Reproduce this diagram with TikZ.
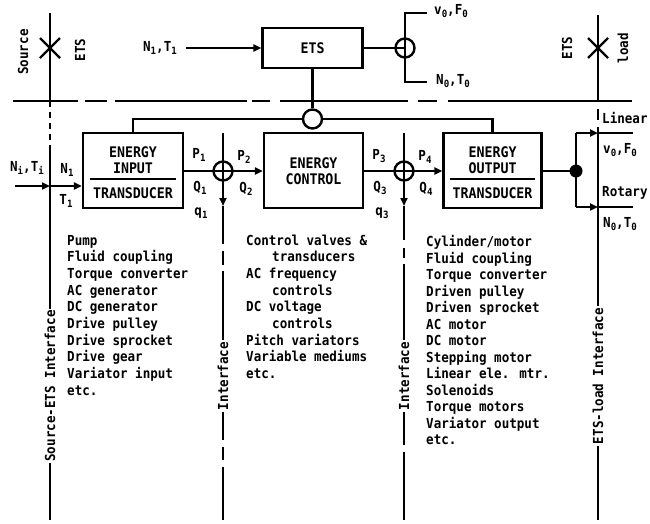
\documentclass[tikz,border=0pt]{standalone}
\usepackage{fontspec}
\setmainfont{DejaVu Sans Mono}[BoldFont={DejaVu Sans Mono Bold},FakeStretch=0.91]
\usetikzlibrary{arrows.meta}
\newcommand\sbx[1]{\raisebox{-0.45ex}{\fontsize{10}{10}\selectfont #1}}
\begin{document}
\begin{tikzpicture}[x=1pt,y=-1pt,
  every node/.style={font=\bfseries\fontsize{13.8}{16.7}\selectfont, inner sep=1pt},
  bxt/.style={font=\bfseries\fontsize{14.6}{16}\selectfont},
  ln/.style={line width=2.2pt},
  arr/.style={line width=2.2pt,-{Triangle[length=8pt,width=7pt]}},
  blk/.style={draw,line width=2.2pt,inner sep=0pt},
  jn/.style={circle,draw,line width=2.4pt,minimum size=19pt,inner sep=0pt},
  vlab/.style={rotate=90,fill=white,inner sep=1.5pt}]
\useasboundingbox[fill=white] (0,0) rectangle (650,523);

% --- top dashed separator
\foreach \a/\b in {13/78,85/107,115/247,252/270,280/408,418/437,448/632}
  \draw[ln] (\a,101) -- (\b,101);

% --- interface boundary lines
\draw[ln] (50,13) -- (50,101);
\draw[ln,dash pattern=on 6pt off 5pt] (50,101) -- (50,147);
\draw[ln] (50,147) -- (50,520);
\draw[ln] (598,15) -- (598,101);
\draw[ln] (598,109) -- (598,120);
\draw[ln] (598,127) -- (598,520);
\foreach \a/\b in {206/244,251/265,271/440,447/460,467/520}
  \draw[ln] (223,\a) -- (223,\b);
\foreach \a/\b in {206/240,248/258,264/445,452/520}
  \draw[ln] (404,\a) -- (404,\b);

% --- crosses
\draw[ln] (40,38) -- (60,58); \draw[ln] (40,58) -- (60,38);
\draw[ln] (588,38) -- (608,58); \draw[ln] (588,58) -- (608,38);

% --- boxes
\node[blk,bxt,minimum width=100pt,minimum height=40pt] (ets) at (312.5,48) {ETS};
\node[blk,minimum width=100pt,minimum height=75pt] (inb) at (133,170.5) {};
\node[blk,minimum width=99pt,minimum height=75pt] (ctl) at (313.5,170.5) {};
\node[blk,minimum width=98pt,minimum height=75pt] (oub) at (492.5,170.5) {};

\node[bxt] (inb1) at (133,152) {ENERGY};
\node[bxt] (inb2) at (133,168) {INPUT};
\draw[ln] (90,179) -- (176,179);
\node[bxt] (inb3) at (133,193) {TRANSDUCER};
\node[bxt,align=center] (ctlt) at (313.5,171) {ENERGY\\CONTROL};
\node[bxt] (oub1) at (492.5,152) {ENERGY};
\node[bxt] (oub2) at (492.5,168) {OUTPUT};
\draw[ln] (450,179) -- (535,179);
\node[bxt] (oub3) at (492.5,193) {TRANSDUCER};

% --- junctions
\node[jn] (j0) at (405,48) {};
\node[jn] (jt) at (312.5,119) {};
\node[jn] (j1) at (223,171) {};
\node[jn] (j2) at (404,171) {};
\node[circle,fill,minimum size=13pt,inner sep=0pt] (dot) at (576,171) {};

% --- top ETS block connections
\node (n1t1) at (160,48) {N\sbx{1},T\sbx{1}};
\draw[arr,shorten <=8pt] (n1t1.east) -- (ets.west);
\draw[ln] (ets.east) -- (j0.center);
\coordinate (vt) at (405,13); \coordinate (vte) at (427,13);
\coordinate (vb) at (405,82); \coordinate (vbe) at (427,82);
\draw[ln] (vte) -- (vt) -- (vb) -- (vbe);
\node[anchor=base west] (vf) at (433,14) {v\sbx{0},F\sbx{0}};
\node[anchor=base west] (nt) at (435,84) {N\sbx{0},T\sbx{0}};

\draw[ln] (ets.south) -- (jt.north);
\draw[ln] (jt.west) -| (inb.north);
\draw[ln] (jt.east) -| (oub.north);

% --- main flow
\coordinate (in0) at (15,186);
\coordinate (in1) at (50,186);
\draw[arr] (in0) -- (in1);
\draw[arr] (in1) -- (inb.west |- in1);

\draw[ln] (inb.east |- j1) -- (j1.center);
\draw[arr] (j1.center) -- (ctl.west |- j1);
\coordinate (i1t) at (223,133); \coordinate (i1a) at (223,206);
\draw[ln] (i1t) -- (j1.center);
\draw[arr] (j1.center) -- (i1a);

\draw[ln] (ctl.east |- j2) -- (j2.center);
\draw[arr] (j2.center) -- (oub.west |- j2);
\coordinate (i2t) at (404,133); \coordinate (i2a) at (404,206);
\draw[ln] (i2t) -- (j2.center);
\draw[arr] (j2.center) -- (i2a);

\draw[ln] (oub.east |- dot) -- (dot.center);
\coordinate (bt) at (576,133); \coordinate (bb) at (576,207);
\coordinate (lt) at (598,133); \coordinate (lb) at (598,207);
\coordinate (lte) at (633,133); \coordinate (lbe) at (633,207);
\draw[ln] (bt) -- (bb);
\draw[arr] (bt) -- (lt); \draw[ln] (lt) -- (lte);
\draw[arr] (bb) -- (lb); \draw[ln] (lb) -- (lbe);

% --- flow labels
\node (nti) at (27,168) {N\sbx{i},T\sbx{i}};
\node (n1) at (67,170) {N\sbx{1}};
\node (t1) at (66,201) {T\sbx{1}};
\node (p1) at (199,155) {P\sbx{1}};
\node (q1) at (200,188) {Q\sbx{1}};
\node (qq1) at (201,213) {q\sbx{1}};
\node (p2) at (244,157) {P\sbx{2}};
\node (q2) at (246,189) {Q\sbx{2}};
\node (p3) at (379,156) {P\sbx{3}};
\node (q3) at (380,188) {Q\sbx{3}};
\node (qq3) at (382,213) {q\sbx{3}};
\node (p4) at (425,157) {P\sbx{4}};
\node (q4) at (426,189) {Q\sbx{4}};
\node[anchor=base west] (lin) at (601,123) {Linear};
\node[anchor=base west] (vf2) at (602,153) {v\sbx{0},F\sbx{0}};
\node[anchor=base west] (rot) at (601,196) {Rotary};
\node[anchor=base west] (nt2) at (602,227) {N\sbx{0},T\sbx{0}};

% --- side labels
\node[rotate=90] (src) at (23,52) {Source};
\node[rotate=90] (ets1) at (80,50) {ETS};
\node[rotate=90] (ets2) at (567,48) {ETS};
\node[rotate=90] (lod) at (623,48) {load};
\node[vlab] (sei) at (50,386) {Source-ETS Interface};
\node[vlab] (if1) at (223,376) {Interface};
\node[vlab] (if2) at (404,376) {Interface};
\node[vlab] (eli) at (598,376) {ETS-load Interface};

% --- lists
\foreach \t [count=\i from 0] in {Pump,Fluid coupling,Torque converter,AC generator,DC generator,Drive pulley,Drive sprocket,Drive gear,Variator input,etc.}
  \node[anchor=base west] (la\i) at (66,245+16.7*\i) {\t};
\foreach \t [count=\i from 0] in {Control valves \&,\hspace*{26pt}transducers,AC frequency,\hspace*{26pt}controls,DC voltage,\hspace*{26pt}controls,Pitch variators,Variable mediums,etc.}
  \node[anchor=base west] (lb\i) at (245,245+16.7*\i) {\t};
\foreach \t [count=\i from 0] in {Cylinder/motor,Fluid coupling,Torque converter,Driven pulley,Driven sprocket,AC motor,DC motor,Stepping motor,Linear ele. mtr.,Solenoids,Torque motors,Variator output,etc.}
  \node[anchor=base west] (lc\i) at (425,246.5+16.5*\i) {\t};
\end{tikzpicture}
\end{document}
